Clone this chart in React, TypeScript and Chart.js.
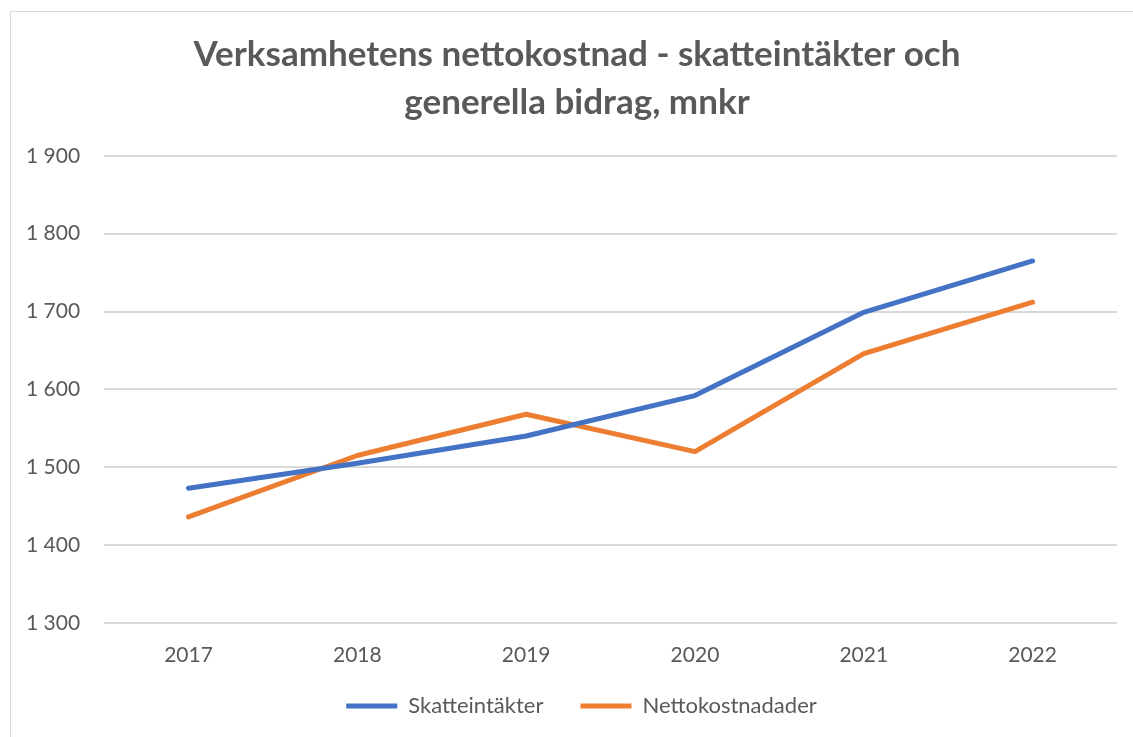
import React, { useEffect, useRef } from "react";
import { Chart, registerables } from "chart.js";

Chart.register(...registerables);

const categories = ["2017", "2018", "2019", "2020", "2021", "2022"];
const skatteintakter = [1473, 1505, 1540, 1592, 1699, 1765];
const nettokostnader = [1436, 1515, 1568, 1520, 1646, 1712];
const titleLines = ["Verksamhetens nettokostnad - skatteintäkter och", "generella bidrag, mnkr"];
const seriesNames = ["Skatteintäkter", "Nettokostnadader"];

const FONT = "Lato, 'Open Sans', sans-serif";
const GRAY = "#595959";

const centerBlocksPlugin = {
  id: "centerBlocks",
  afterLayout(chart: any) {
    const t = chart.titleBlock;
    if (t) {
      t.left = 10;
      t.right = 1144;
    }
    const l = chart.legend;
    if (l) {
      l.left = 24;
      l.right = 1139;
    }
  },
};

export default function App() {
  const ref = useRef<HTMLCanvasElement | null>(null);
  useEffect(() => {
    if (!ref.current) return;
    const chart = new Chart(ref.current, {
      type: "line",
      data: {
        labels: categories,
        datasets: [
          {
            label: seriesNames[0],
            data: skatteintakter,
            borderColor: "#4472C4",
            backgroundColor: "#4472C4",
            borderWidth: 5,
            borderCapStyle: "round",
            borderJoinStyle: "round",
            pointRadius: 0,
            tension: 0,
          },
          {
            label: seriesNames[1],
            data: nettokostnader,
            borderColor: "#ED7D31",
            backgroundColor: "#ED7D31",
            borderWidth: 5,
            borderCapStyle: "round",
            borderJoinStyle: "round",
            pointRadius: 0,
            tension: 0,
          },
        ],
      },
      plugins: [centerBlocksPlugin],
      options: {
        animation: false,
        responsive: false,
        maintainAspectRatio: false,
        layout: { padding: { left: 2, right: 16, top: 31, bottom: 10 } },
        plugins: {
          title: {
            display: true,
            text: titleLines,
            color: GRAY,
            font: { family: FONT, size: 35, weight: "bold", lineHeight: 1.37 },
            padding: { top: 0, bottom: 29 },
          },
          legend: {
            display: true,
            position: "bottom",
            labels: {
              usePointStyle: true,
              pointStyle: "line",
              pointStyleWidth: 51,
              boxWidth: 51,
              color: GRAY,
              font: { family: FONT, size: 22 },
              padding: 15,
              generateLabels: (c: any) => {
                const items = Chart.defaults.plugins.legend.labels.generateLabels(c);
                return items.map((it: any, i: number) =>
                  i < items.length - 1 ? { ...it, text: it.text + "\u00A0\u00A0\u00A0\u00A0" } : it
                );
              },
            },
          },
          tooltip: { enabled: false },
        },
        scales: {
          x: {
            offset: true,
            grid: { display: false },
            border: { display: false },
            ticks: { color: GRAY, font: { family: FONT, size: 21 }, padding: 12 },
          },
          y: {
            min: 1300,
            max: 1900,
            grid: { color: "#d9d9d9", lineWidth: 2, drawTicks: false },
            border: { display: false },
            ticks: {
              stepSize: 100,
              color: GRAY,
              font: { family: FONT, size: 21 },
              padding: 24,
              callback: (v: any) => {
                const n = Number(v);
                const th = Math.floor(n / 1000);
                const rest = String(n % 1000).padStart(3, "0");
                return th > 0 ? `${th} ${rest}` : String(n);
              },
            },
          },
        },
      },
    });
    return () => chart.destroy();
  }, []);

  return (
    <div style={{ position: "fixed", left: 0, top: 0, width: 1133, height: 737, overflow: "hidden", background: "#fff" }}>
      <div
        style={{
          position: "absolute",
          left: 10,
          top: 11,
          width: 1140,
          height: 740,
          border: "1px solid #d9d9d9",
          boxSizing: "border-box",
        }}
      />
      <canvas ref={ref} width={1133} height={737} style={{ position: "absolute", left: 0, top: 0 }} />
    </div>
  );
}
